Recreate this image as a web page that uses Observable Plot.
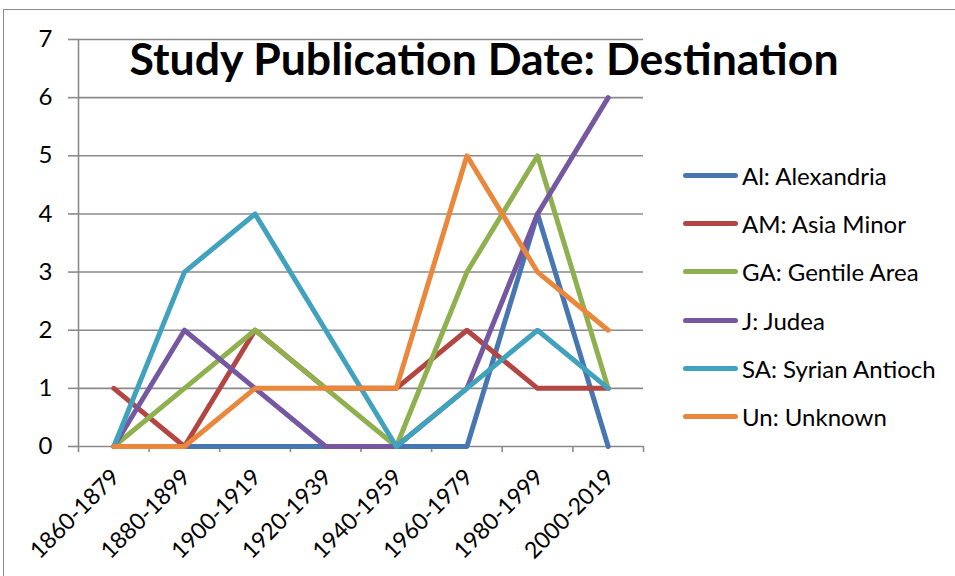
<!DOCTYPE html>
<html><head><meta charset="utf-8">
<script src="https://cdn.jsdelivr.net/npm/d3@7"></script>
<script src="https://cdn.jsdelivr.net/npm/@observablehq/plot@0.6"></script>
<style>
html,body{margin:0;padding:0;background:#fff;}
#wrap{position:relative;width:955px;height:576px;overflow:hidden;font-family:Lato,"Open Sans",sans-serif;}
#border{position:absolute;left:3px;top:9px;width:1000px;height:600px;border-top:1px solid #8c8c8c;border-left:1px solid #8c8c8c;}
#chart{position:absolute;left:0;top:0;}
#title{position:absolute;left:0;width:968px;top:35.5px;text-align:center;font-weight:700;font-size:44.6px;color:#000;line-height:1;white-space:nowrap;}
#legend{position:absolute;left:683px;top:151px;}
.item{height:48.3px;display:flex;align-items:center;font-size:24px;color:#000;}
.sw{width:55px;height:5px;border-radius:2.5px;margin-right:4px;}
</style></head>
<body><div id="wrap"><div id="border"></div><div id="chart"></div><div id="title"></div><div id="legend"></div></div>
<script>
const categories = ["1860-1879","1880-1899","1900-1919","1920-1939","1940-1959","1960-1979","1980-1999","2000-2019"];
const seriesNames = ["Al: Alexandria","AM: Asia Minor","GA: Gentile Area","J: Judea","SA: Syrian Antioch","Un: Unknown"];
const colors = ["#4776B0","#B34642","#8FB04E","#7558A0","#41A2BE","#E9883C"];
const al = [0,0,0,0,0,0,4,0];
const am = [1,0,2,1,1,2,1,1];
const ga = [0,1,2,1,0,3,5,1];
const ju = [0,2,1,0,0,1,4,6];
const sa = [0,3,4,2,0,1,2,1];
const un = [0,0,1,1,1,5,3,2];
const yTicks = [0,1,2,3,4,5,6,7];
const titleText = "Study Publication Date: Destination";

const seriesValues = [al, am, ga, ju, sa, un];
const data = [];
seriesValues.forEach((vals, s) => vals.forEach((v, i) => data.push({series: seriesNames[s], i, value: v})));
const catIdx = categories.map((c, i) => i);
const bounds = d3.range(categories.length + 1).map(k => k - 0.5);

const chart = Plot.plot({
  width: 955, height: 576,
  marginLeft: 78, marginRight: 312, marginTop: 39, marginBottom: 130,
  style: {fontFamily: "Lato, 'Open Sans', sans-serif", background: "transparent", overflow: "visible"},
  x: {type: "linear", domain: [-0.5, categories.length - 0.5]},
  y: {domain: [0, 7]},
  color: {domain: seriesNames, range: colors},
  marks: [
    Plot.ruleY(yTicks.filter(d => d > 0), {stroke: "#8a8a8a", strokeWidth: 1.6}),
    Plot.ruleX([-0.5], {stroke: "#8a8a8a", strokeWidth: 1.6}),
    Plot.ruleY([0], {stroke: "#8a8a8a", strokeWidth: 1.6}),
    Plot.axisY({ticks: yTicks, tickFormat: "d", tickSize: 10, tickPadding: 16, fontSize: 24, stroke: "#8a8a8a", strokeWidth: 1.6, color: "#000", label: null}),
    Plot.axisX({ticks: bounds, tickSize: 6, tickFormat: () => "", stroke: "#8a8a8a", strokeWidth: 1.6, label: null}),
    Plot.axisX({ticks: catIdx, tickSize: 0, tickFormat: i => categories[i], tickRotate: -45, fontSize: 23, color: "#000", dx: 2, dy: 15, label: null}),
    Plot.line(data, {x: "i", y: "value", z: "series", stroke: "series", strokeWidth: 5, strokeLinejoin: "round", strokeLinecap: "round"})
  ]
});
document.getElementById("chart").appendChild(chart);
document.getElementById("title").textContent = titleText;
const leg = document.getElementById("legend");
seriesNames.forEach((n, k) => {
  const it = document.createElement("div"); it.className = "item";
  const sw = document.createElement("div"); sw.className = "sw"; sw.style.background = colors[k];
  const tx = document.createElement("span"); tx.textContent = n;
  it.appendChild(sw); it.appendChild(tx); leg.appendChild(it);
});
</script></body></html>
